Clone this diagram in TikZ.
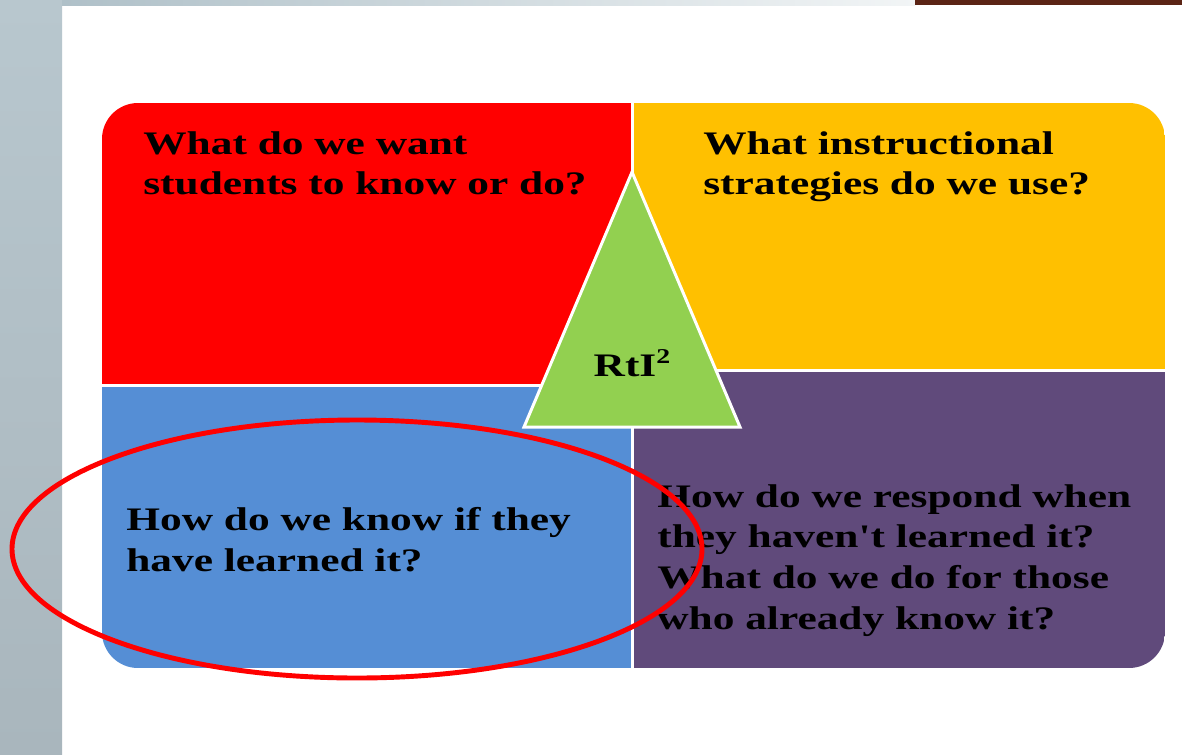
\documentclass[tikz,border=0pt]{standalone}
\usepackage{fontspec}
\setmainfont{Liberation Serif}[FakeStretch=1.32,Ligatures=TeXOff]
\usepackage{tikz}
\usetikzlibrary{positioning}
\definecolor{quadred}{HTML}{FF0000}
\definecolor{quadyellow}{HTML}{FFC000}
\definecolor{quadblue}{HTML}{558ED5}
\definecolor{quadpurple}{HTML}{604A7B}
\definecolor{rtigreen}{HTML}{92D050}
\definecolor{stripa}{HTML}{B8C7CE}
\definecolor{stripb}{HTML}{A9B6BD}
\definecolor{topa}{HTML}{AFC0C8}
\definecolor{topb}{HTML}{F2F5F6}
\definecolor{brownbar}{HTML}{5B2415}

\begin{document}
\begin{tikzpicture}[x=0.02cm,y=-0.02cm,
  quadtext/.style={anchor=north west,inner sep=0pt,align=left,text=black,
    font=\fontsize{18.7}{23.2}\selectfont\bfseries},
  divider/.style={white,line width=1.7pt}]
\useasboundingbox (0,0) rectangle (1182,754);
\fill[white] (0,0) rectangle (1182,754);
\shade[top color=stripa,bottom color=stripb] (0,0) rectangle (62,754);
\shade[left color=topa,right color=topb] (62,0) rectangle (915,5);
\fill[brownbar] (915,0) rectangle (1182,5);
\begin{scope}
\clip[rounded corners=0.72cm] (102,103) rectangle (1165,668);
\fill[quadred] (102,103) rectangle (632,385);
\fill[quadyellow] (632,103) rectangle (1165,370);
\fill[quadblue] (102,385) rectangle (632,668);
\fill[quadpurple] (632,370) rectangle (1165,668);
\end{scope}
\draw[divider] (632,103) -- (632,668);
\draw[divider] (102,385) -- (632,385);
\draw[divider] (632,370) -- (1165,370);
\filldraw[fill=rtigreen,draw=white,line width=1.7pt] (632,172) -- (740,427) -- (524,427) -- cycle;
\node[quadtext] (want) at (143,131) {What do we want\\students to know or do?};
\node[quadtext] (strategies) at (703,131) {What instructional\\strategies do we use?};
\node[quadtext] (know) at (126,507) {How do we know if they\\have learned it?};
\node[quadtext] (respond) at (657,484) {How do we respond when\\they haven't learned it?\\What do we do for those\\who already know it?};
\node[quadtext,anchor=center] (rti) at (632,363) {RtI\raisebox{0.9ex}{\fontsize{12}{12}\selectfont 2}};
\draw[quadred,line width=2.8pt] (357,549) ellipse [x radius=345,y radius=129];
\end{tikzpicture}
\end{document}
